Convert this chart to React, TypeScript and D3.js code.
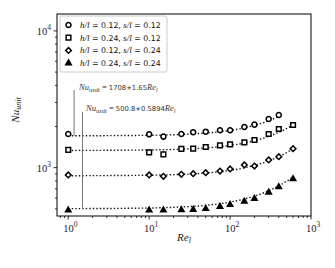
import React, { useRef, useEffect } from 'react';
import * as d3 from 'd3';

// Re_l sample points
const reCircle = [1, 10, 15, 25, 35, 50, 75, 100, 150, 200, 300, 400];
const reOther = [1, 10, 15, 25, 35, 50, 75, 100, 150, 200, 300, 400, 600];

// Nu_unit values
const nuA = [1763, 1753, 1687, 1763, 1814, 1833, 1876, 1876, 1985, 2064, 2270, 2427];
const nuB = [1347, 1295, 1252, 1370, 1377, 1416, 1457, 1482, 1532, 1593, 1763, 1918, 2052];
const nuC = [884, 884, 864, 894, 904, 919, 945, 978, 1046, 1028, 1138, 1203, 1377];
const nuD = [488, 488, 488, 490, 493, 501, 519, 536, 567, 594, 660, 723, 826];

// linear fit coefficients (intercept, slope) per case
const fitIntercept = [1708, 1335, 872, 500.8];
const fitSlope = [1.65, 1.19, 0.83, 0.5894];

const legendLabels = [
  ['0.12', '0.12'],
  ['0.24', '0.12'],
  ['0.12', '0.24'],
  ['0.24', '0.24'],
];

const xTicks = [1, 10, 100, 1000];
const yTicks = [1000, 10000];

const W = 335;
const H = 268;
const M = { left: 57, right: 311, top: 14, bottom: 216 };
const serif = '"Liberation Serif", "DejaVu Serif", serif';
const sans = '"DejaVu Sans", "Liberation Sans", sans-serif';

const App: React.FC = () => {
  const svgRef = useRef<SVGSVGElement | null>(null);

  useEffect(() => {
    if (!svgRef.current) return;
    const svg = d3.select(svgRef.current);
    svg.selectAll('*').remove();

    const x = d3.scaleLog().domain([0.726, 1000]).range([M.left, M.right]);
    const y = d3.scaleLog().domain([443, 13300]).range([M.bottom, M.top]);

    const series = [
      { re: reCircle, nu: nuA, sym: d3.symbolCircle, size: 20, fill: 'white', rot: 0 },
      { re: reOther, nu: nuB, sym: d3.symbolSquare, size: 22, fill: 'white', rot: 0 },
      { re: reOther, nu: nuC, sym: d3.symbolSquare, size: 16, fill: 'white', rot: 45 },
      { re: reOther, nu: nuD, sym: d3.symbolTriangle, size: 13, fill: 'black', rot: 0 },
    ];

    // fit lines, sampled at the same Re values
    const line = d3.line<number>()
      .x(d => x(d))
      .curve(d3.curveMonotoneX);

    series.forEach((s, i) => {
      svg.append('path')
        .attr('d', line.y(d => y(fitIntercept[i] + fitSlope[i] * d))(s.re))
        .attr('fill', 'none')
        .attr('stroke', '#111')
        .attr('stroke-width', 1.4)
        .attr('stroke-dasharray', '1.4,2.1');
    });

    // annotation leader lines
    const ann = [
      { re: 1.18, top: 90, to: y(1708), tx: 79, ty: 90, a: '1708', b: '1.65' },
      { re: 1.5, top: 112, to: y(500.8), tx: 86, ty: 111, a: '500.8', b: '0.5894' },
    ];
    ann.forEach(a => {
      svg.append('line')
        .attr('x1', x(a.re)).attr('x2', x(a.re))
        .attr('y1', a.top).attr('y2', a.to)
        .attr('stroke', '#777').attr('stroke-width', 1);
      const t = svg.append('text')
        .attr('x', a.tx).attr('y', a.ty)
        .attr('font-size', 8.5).attr('fill', '#333');
      t.append('tspan').attr('font-family', serif).attr('font-style', 'italic').text('Nu');
      t.append('tspan').attr('font-family', serif).attr('font-style', 'italic')
        .attr('font-size', 7).attr('dy', 1.8).text('unit');
      t.append('tspan').attr('font-family', serif).attr('dy', -1.8).text('  = ');
      t.append('tspan').attr('font-family', sans).attr('font-size', 6.8).text(`${a.a}+${a.b}`);
      t.append('tspan').attr('font-family', serif).attr('font-style', 'italic').text('Re');
      t.append('tspan').attr('font-family', serif).attr('font-style', 'italic')
        .attr('font-size', 6).attr('dy', 1.8).text('l');
    });

    // markers
    series.forEach(s => {
      const sym = d3.symbol().type(s.sym).size(s.size);
      svg.append('g').selectAll('path')
        .data(s.re.map((r, j) => [r, s.nu[j]]))
        .enter()
        .append('path')
        .attr('d', sym()!)
        .attr('transform', d => `translate(${x(d[0])},${y(d[1])}) rotate(${s.rot})`)
        .attr('fill', s.fill)
        .attr('stroke', 'black')
        .attr('stroke-width', 1.5);
    });

    // frame
    svg.append('rect')
      .attr('x', M.left).attr('y', M.top)
      .attr('width', M.right - M.left).attr('height', M.bottom - M.top)
      .attr('fill', 'none').attr('stroke', 'black').attr('stroke-width', 1);

    // ticks
    const xMinor: number[] = [];
    for (let e = -1; e < 3; e++) for (let k = 2; k < 10; k++) {
      const v = k * Math.pow(10, e);
      if (v >= 0.726 && v <= 1000) xMinor.push(v);
    }
    const yMinor: number[] = [];
    for (let e = 2; e < 5; e++) for (let k = 2; k < 10; k++) {
      const v = k * Math.pow(10, e);
      if (v >= 443 && v <= 13300) yMinor.push(v);
    }
    const g = svg.append('g').attr('stroke', 'black').attr('stroke-width', 0.8);
    xMinor.forEach(v => g.append('line').attr('x1', x(v)).attr('x2', x(v)).attr('y1', M.bottom).attr('y2', M.bottom + 2));
    xTicks.forEach(v => g.append('line').attr('x1', x(v)).attr('x2', x(v)).attr('y1', M.bottom).attr('y2', M.bottom + 3.5));
    yMinor.forEach(v => g.append('line').attr('y1', y(v)).attr('y2', y(v)).attr('x1', M.left).attr('x2', M.left - 2));
    yTicks.forEach(v => g.append('line').attr('y1', y(v)).attr('y2', y(v)).attr('x1', M.left).attr('x2', M.left - 3.5));

    const pow = (t: d3.Selection<SVGTextElement, unknown, null, undefined>, exp: number) => {
      t.append('tspan').text('10');
      t.append('tspan').attr('font-size', 7.5).attr('dy', -5).text(String(exp));
    };
    xTicks.forEach(v => {
      const t = svg.append('text')
        .attr('x', x(v) + 2).attr('y', M.bottom + 16)
        .attr('text-anchor', 'middle')
        .attr('font-family', serif).attr('font-size', 10.5).attr('fill', '#222');
      pow(t, Math.round(Math.log10(v)));
    });
    yTicks.forEach(v => {
      const t = svg.append('text')
        .attr('x', M.left - 6).attr('y', y(v) + 4)
        .attr('text-anchor', 'end')
        .attr('font-family', serif).attr('font-size', 10.5).attr('fill', '#222');
      pow(t, Math.round(Math.log10(v)));
    });

    // axis labels
    const xl = svg.append('text')
      .attr('x', 184).attr('y', 241).attr('text-anchor', 'middle')
      .attr('font-family', serif).attr('font-style', 'italic').attr('font-size', 11).attr('fill', '#222');
    xl.append('tspan').text('Re');
    xl.append('tspan').attr('font-size', 8).attr('dy', 2).text('l');

    const yl = svg.append('text')
      .attr('transform', 'translate(19,110) rotate(-90)').attr('text-anchor', 'middle')
      .attr('font-family', serif).attr('font-style', 'italic').attr('font-size', 11).attr('fill', '#222');
    yl.append('tspan').text('Nu');
    yl.append('tspan').attr('font-size', 8).attr('dy', 2).text('unit');

    // legend
    const lg = svg.append('g');
    lg.append('rect')
      .attr('x', 60).attr('y', 16).attr('width', 107).attr('height', 56)
      .attr('rx', 2).attr('fill', 'white').attr('stroke', '#ccc').attr('stroke-width', 1);
    series.forEach((s, i) => {
      const ry = 25 + i * 12.7;
      const sym = d3.symbol().type(s.sym).size(s.size);
      lg.append('path')
        .attr('d', sym()!)
        .attr('transform', `translate(68.5,${ry}) rotate(${s.rot})`)
        .attr('fill', s.fill).attr('stroke', 'black').attr('stroke-width', 1.5);
      const t = lg.append('text')
        .attr('x', 80).attr('y', ry + 3)
        .attr('font-size', 9).attr('fill', '#111');
      t.append('tspan').attr('font-family', serif).attr('font-style', 'italic').text('h/l');
      t.append('tspan').attr('font-family', sans).attr('font-size', 7.8).text(` = ${legendLabels[i][0]}, `);
      t.append('tspan').attr('font-family', serif).attr('font-style', 'italic').text('s/l');
      t.append('tspan').attr('font-family', sans).attr('font-size', 7.8).text(` = ${legendLabels[i][1]}`);
    });
  }, []);

  return (
    <svg
      ref={svgRef}
      width={W}
      height={H}
      style={{ position: 'absolute', left: 0, top: 0, background: 'white' }}
    />
  );
};

export default App;
